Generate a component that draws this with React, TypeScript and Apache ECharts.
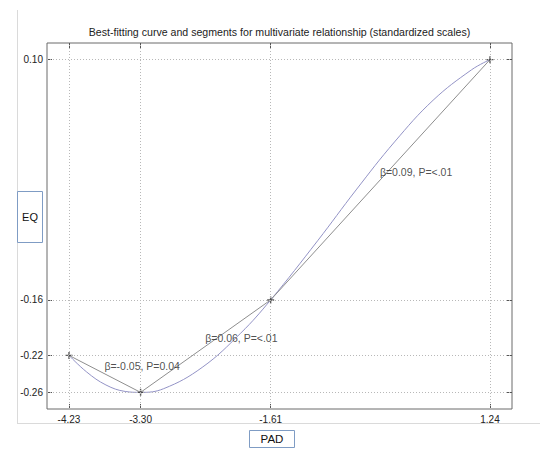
import React, { useEffect, useRef } from "react";
import * as echarts from "echarts";

const titleText =
  "Best-fitting curve and segments for multivariate relationship (standardized scales)";
const xName = "PAD";
const yName = "EQ";

// tick values (axis labels)
const xTicks = [-4.23, -3.3, -1.61, 1.24];
const yTicks = [-0.26, -0.22, -0.16, 0.1];

// knot points joined by straight segments
const pointX = [-4.23, -3.3, -1.61, 1.24];
const pointY = [-0.22, -0.26, -0.16, 0.1];

// best-fitting curve
const curveX = [-4.23, -4.0, -3.75, -3.5, -3.3, -3.0, -2.5, -2.0, -1.61, -1.0, -0.5, 0, 0.5, 1.0, 1.24];
const curveY = [-0.22, -0.238, -0.252, -0.259, -0.26, -0.256, -0.233, -0.196, -0.16, -0.096, -0.041, 0.011, 0.056, 0.089, 0.1];

// segment annotations
const noteText = ["β=-0.05, P=0.04", "β=0.06, P=<.01", "β=0.09, P=<.01"];
const noteX = [-3.77, -2.46, -0.19];
const noteY = [-0.24, -0.21, -0.03];

const FONT = "'Liberation Sans', Arial, sans-serif";

export default function App() {
  const ref = useRef<HTMLDivElement>(null);
  useEffect(() => {
    document.body.style.margin = "0";
    if (!ref.current) return;
    const chart = echarts.init(ref.current, undefined, { renderer: "svg" });
    const gridColor = "#b8b8b8";
    const tickStyle = { show: true, inside: true, length: 5, lineStyle: { color: "#555", width: 1 } };
    const noLine = { show: false, onZero: false };
    chart.setOption({
      animation: false,
      backgroundColor: "#fff",
      grid: {
        left: 47,
        right: 38,
        top: 43,
        bottom: 43,
        show: true,
        borderColor: "#6a6a6a",
        borderWidth: 1,
        backgroundColor: "#fff",
      },
      xAxis: [
        {
          type: "value",
          position: "bottom",
          min: -4.516,
          max: 1.526,
          axisLine: noLine,
          splitLine: { show: false },
          axisTick: { ...tickStyle, customValues: xTicks },
          axisLabel: {
            customValues: xTicks,
            formatter: (v: number) => v.toFixed(2),
            fontSize: 10,
            color: "#222",
            fontFamily: FONT,
            margin: 5,
          },
        },
        {
          type: "value",
          position: "top",
          min: -4.516,
          max: 1.526,
          axisLine: noLine,
          splitLine: { show: false },
          axisTick: { ...tickStyle, customValues: xTicks },
          axisLabel: { show: false, customValues: xTicks },
        },
      ],
      yAxis: [
        {
          type: "value",
          position: "left",
          min: -0.278,
          max: 0.118,
          axisLine: noLine,
          splitLine: { show: false },
          axisTick: { ...tickStyle, customValues: yTicks },
          axisLabel: {
            customValues: yTicks,
            formatter: (v: number) => v.toFixed(2),
            fontSize: 10,
            color: "#222",
            fontFamily: FONT,
            margin: 4,
          },
        },
        {
          type: "value",
          position: "right",
          min: -0.278,
          max: 0.118,
          axisLine: noLine,
          splitLine: { show: false },
          axisTick: { ...tickStyle, customValues: yTicks },
          axisLabel: { show: false, customValues: yTicks },
        },
      ],
      series: [
        {
          type: "line",
          name: "grid",
          data: [],
          silent: true,
          markLine: {
            silent: true,
            symbol: "none",
            label: { show: false },
            lineStyle: { color: gridColor, type: [1, 2], width: 1 },
            data: [
              ...xTicks.map((v) => ({ xAxis: v })),
              ...yTicks.map((v) => ({ yAxis: v })),
            ],
          },
        },
        {
          type: "line",
          name: "curve",
          data: curveX.map((x, i) => [x, curveY[i]]),
          smooth: 0.4,
          showSymbol: false,
          lineStyle: { color: "#9393c6", width: 1 },
          z: 3,
        },
        {
          type: "line",
          name: "segments",
          data: pointX.map((x, i) => [x, pointY[i]]),
          showSymbol: false,
          lineStyle: { color: "#8e8e8e", width: 1 },
          z: 3,
        },
        {
          type: "scatter",
          name: "points",
          data: pointX.map((x, i) => [x, pointY[i]]),
          symbol: "path://M4,0H6V10H4ZM0,4H10V6H0Z",
          symbolSize: 7,
          itemStyle: { color: "#333" },
          z: 4,
        },
        {
          type: "scatter",
          name: "notes",
          symbolSize: 0,
          data: noteX.map((x, i) => ({ value: [x, noteY[i]], name: noteText[i] })),
          label: {
            show: true,
            formatter: (p: any) => p.name,
            position: [0, -8],
            align: "left",
            verticalAlign: "middle",
            fontSize: 10.5,
            color: "#222",
            fontFamily: FONT,
          },
          z: 5,
        },
      ],
      graphic: [
        {
          type: "line",
          shape: { x1: 17.5, y1: 10, x2: 17.5, y2: 423.5 },
          style: { stroke: "#dadada", lineWidth: 1 },
        },
        {
          type: "line",
          shape: { x1: 17, y1: 423.5, x2: 540, y2: 423.5 },
          style: { stroke: "#dadada", lineWidth: 1 },
        },
        {
          type: "text",
          x: 279.5,
          y: 32,
          style: {
            text: titleText,
            fontSize: 10.6,
            fontFamily: FONT,
            fill: "#222",
            textAlign: "center",
            textVerticalAlign: "middle",
            align: "center",
            verticalAlign: "middle",
          },
        },
        {
          type: "rect",
          shape: { x: 17.5, y: 191.5, width: 25, height: 51 },
          style: { fill: "#fff", stroke: "#7f9cc4", lineWidth: 1 },
        },
        {
          type: "text",
          x: 30,
          y: 217,
          style: {
            text: yName,
            fontSize: 11,
            fontFamily: FONT,
            fill: "#111",
            textAlign: "center",
            textVerticalAlign: "middle",
            align: "center",
            verticalAlign: "middle",
          },
        },
        {
          type: "rect",
          shape: { x: 249.5, y: 430.5, width: 45, height: 17 },
          style: { fill: "#fff", stroke: "#7f9cc4", lineWidth: 1 },
        },
        {
          type: "text",
          x: 272,
          y: 439,
          style: {
            text: xName,
            fontSize: 11.5,
            fontFamily: FONT,
            fill: "#111",
            textAlign: "center",
            textVerticalAlign: "middle",
            align: "center",
            verticalAlign: "middle",
          },
        },
      ],
    });
    return () => chart.dispose();
  }, []);
  return <div ref={ref} style={{ width: 550, height: 452 }} />;
}
